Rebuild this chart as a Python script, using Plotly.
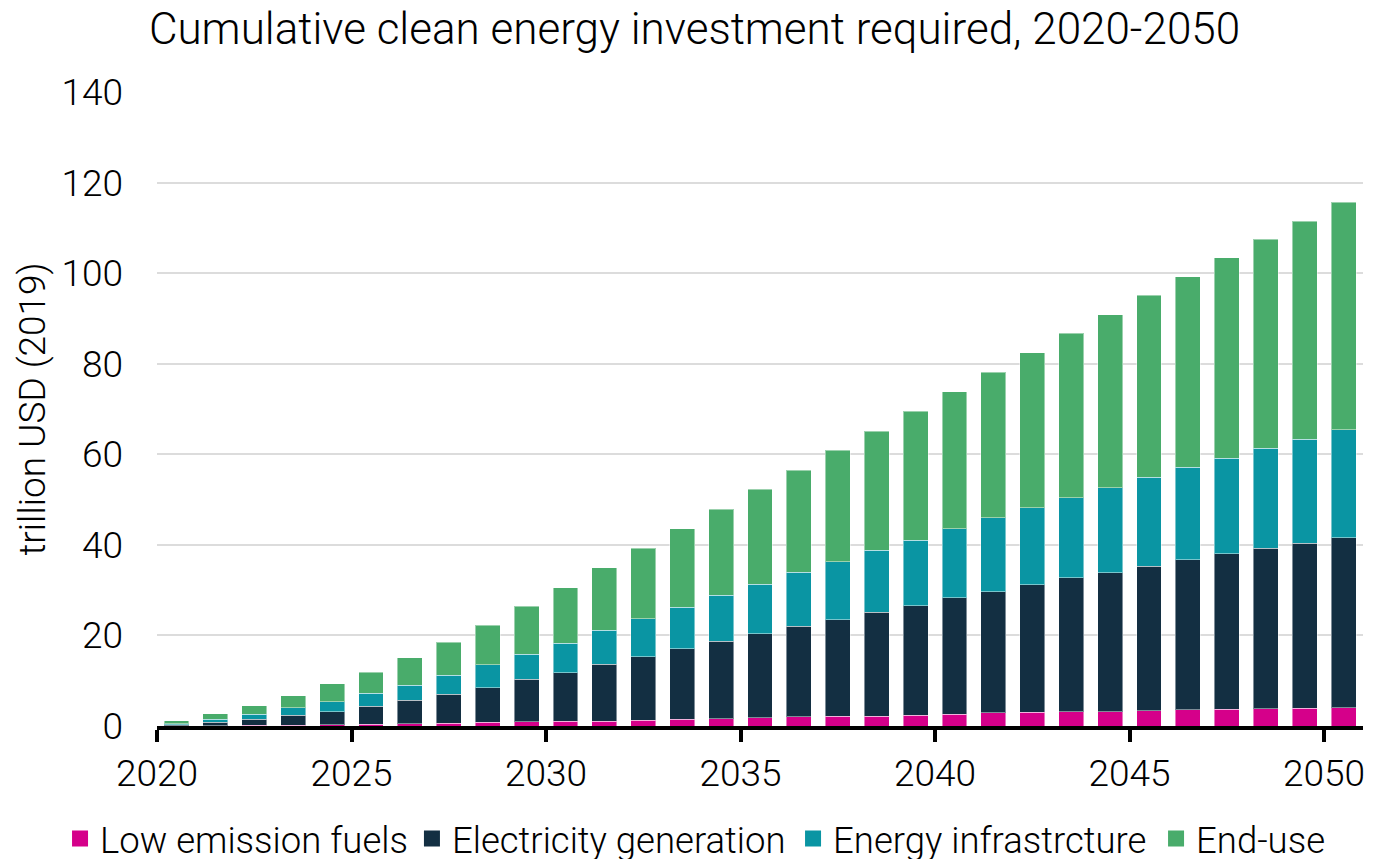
import plotly.graph_objects as go

years = list(range(2020, 2051))

low_emission_fuels = [0.05, 0.1, 0.15, 0.2, 0.3, 0.4, 0.5, 0.6, 0.8, 0.9,
                      1.0, 1.1, 1.3, 1.5, 1.6, 1.8, 2.0, 2.1, 2.2, 2.4,
                      2.6, 2.9, 3.0, 3.1, 3.2, 3.4, 3.6, 3.7, 3.8, 3.9, 4.0]
electricity_generation = [0.25, 0.7, 1.35, 2.2, 2.9, 4.0, 5.2, 6.4, 7.7, 9.4,
                          10.8, 12.5, 14.0, 15.6, 17.1, 18.6, 20.0, 21.4, 22.9, 24.2,
                          25.7, 26.7, 28.2, 29.6, 30.6, 31.9, 33.1, 34.3, 35.4, 36.5, 37.6]
energy_infrastructure = [0.2, 0.7, 1.1, 1.6, 2.2, 2.8, 3.3, 4.2, 5.0, 5.6,
                         6.5, 7.5, 8.4, 9.1, 10.2, 10.9, 11.9, 12.8, 13.7, 14.4,
                         15.3, 16.4, 17.0, 17.7, 18.8, 19.6, 20.4, 21.1, 22.1, 22.9, 23.8]
end_use = [0.7, 1.2, 1.9, 2.7, 3.9, 4.7, 6.1, 7.3, 8.8, 10.5,
           12.2, 13.8, 15.5, 17.4, 19.0, 21.0, 22.6, 24.6, 26.3, 28.5,
           30.2, 32.1, 34.2, 36.3, 38.2, 40.2, 42.1, 44.3, 46.2, 48.2, 50.3]

series_names = ["Low emission fuels", "Electricity generation",
                "Energy infrastrcture", "End-use"]
series_values = [low_emission_fuels, electricity_generation,
                 energy_infrastructure, end_use]
series_colors = ["#D5008A", "#132F42", "#0A95A3", "#49AC6B"]

tick_years = [2020, 2025, 2030, 2035, 2040, 2045, 2050]
y_ticks = [0, 20, 40, 60, 80, 100, 120, 140]

FONT = "Roboto, Liberation Sans, Arial, sans-serif"

# each bar sits in the middle of its year interval
bar_x = [y + 0.5 for y in years]

# one single-entry legend per series, laid out in a row under the axis
legend_ids = ["legend", "legend2", "legend3", "legend4"]
legend_x = [-0.0804, 0.2114, 0.5274, 0.8284]

fig = go.Figure()
for name, vals, col in zip(series_names, series_values, series_colors):
    fig.add_trace(go.Bar(
        x=bar_x, y=vals, name=name, width=0.64,
        marker=dict(color=col, line=dict(color="rgba(255,255,255,0.45)", width=1)),
        showlegend=False,
    ))
for name, col, lid in zip(series_names, series_colors, legend_ids):
    # larger square legend swatches
    fig.add_trace(go.Scatter(
        x=[None], y=[None], mode="markers", name=name, legend=lid,
        marker=dict(symbol="square", size=20, color=col),
        showlegend=True,
    ))

legend_layout = {}
for lid, lx in zip(legend_ids, legend_x):
    legend_layout[lid] = dict(
        orientation="h", x=lx, xanchor="left",
        y=-0.178, yanchor="middle", bgcolor="rgba(0,0,0,0)",
        font=dict(size=36.5, family=FONT, weight=300),
        itemwidth=30,
    )

fig.update_layout(
    barmode="stack",
    autosize=False,
    width=1389, height=859,
    margin=dict(l=157, r=26, t=92, b=133, autoexpand=False),
    paper_bgcolor="white", plot_bgcolor="white",
    font=dict(family=FONT, color="#000000", size=37, weight=300),
    title=dict(text="Cumulative clean energy investment required, 2020-2050",
               x=0.5, xanchor="center", xref="container",
               y=1 - 29 / 859, yanchor="middle", yref="container",
               font=dict(size=44, family=FONT, weight=300)),
    xaxis=dict(
        range=[2020, 2051], tickmode="array", tickvals=tick_years,
        ticktext=[str(t) for t in tick_years], tickangle=0, automargin=False,
        showgrid=False, zeroline=False,
        showline=True, linecolor="#000000", linewidth=4,
        ticks="outside", ticklen=12, tickwidth=4, tickcolor="#000000",
        tickfont=dict(size=37, family=FONT, weight=300),
    ),
    xaxis2=dict(
        range=[2020, 2051], overlaying="x", tickmode="array", tickvals=tick_years,
        showticklabels=False, showgrid=False, zeroline=False, showline=False,
        ticks="inside", ticklen=12, tickwidth=4, tickcolor="#000000",
        anchor="y", side="bottom", automargin=False,
    ),
    yaxis=dict(
        range=[0, 140], tickmode="array", tickvals=y_ticks, automargin=False,
        showgrid=True, gridcolor="#DCDCDC", gridwidth=2,
        zeroline=False, showline=False, ticks="",
        ticklabelstandoff=33,
        tickfont=dict(size=37, family=FONT, weight=300),
        title=dict(text="trillion USD (2019)", standoff=4,
                   font=dict(size=37, family=FONT, weight=300)),
    ),
    bargap=0.2,
    **legend_layout,
)

fig.write_html("out.html")
